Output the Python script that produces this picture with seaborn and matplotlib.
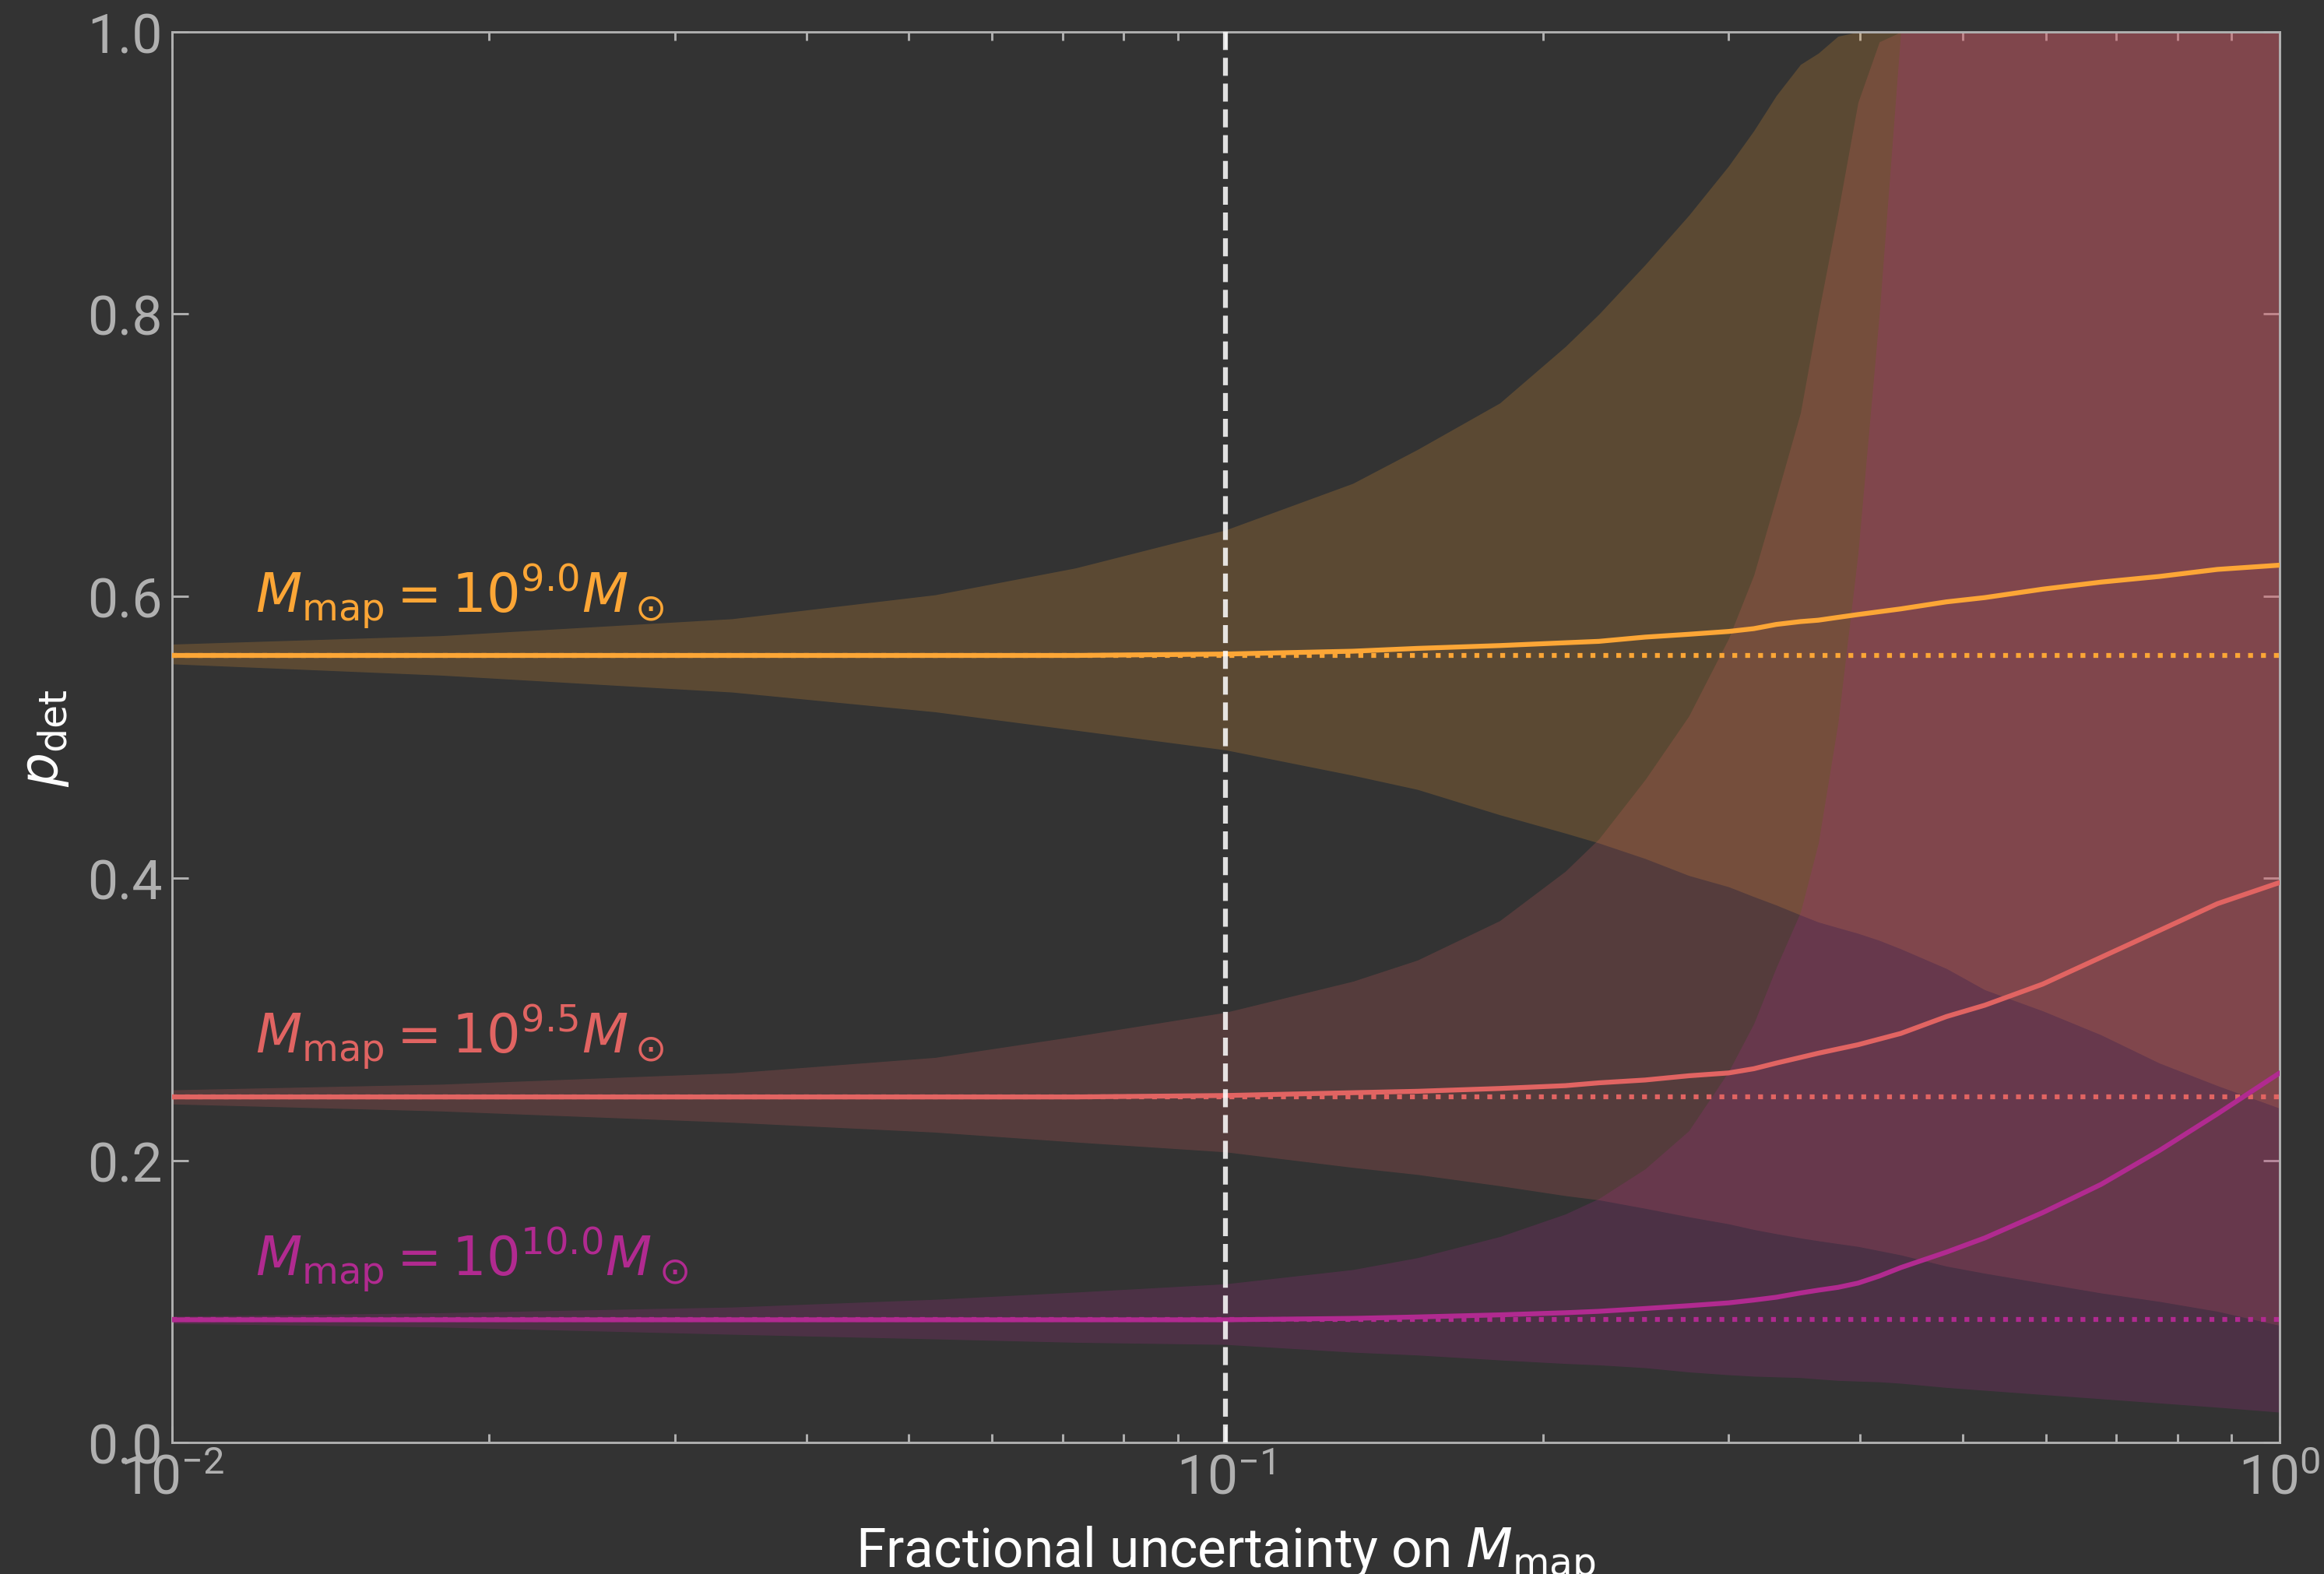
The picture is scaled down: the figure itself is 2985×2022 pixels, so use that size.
import matplotlib

matplotlib.use("Agg")
import matplotlib.pyplot as plt
import pandas as pd
import seaborn as sns

# fractional uncertainty on M_map (common grid)
frac_unc = [0.010, 0.018, 0.034, 0.053, 0.072, 0.100, 0.132, 0.152, 0.182, 0.210,
            0.226, 0.250, 0.275, 0.300, 0.317, 0.333, 0.351, 0.365, 0.381, 0.398,
            0.417, 0.437, 0.483, 0.525, 0.596, 0.677, 0.769, 0.873, 1.000]

# log M_map = 9.0
p90_med = [0.558, 0.558, 0.558, 0.558, 0.558, 0.559, 0.561, 0.563, 0.565, 0.567,
           0.568, 0.571, 0.573, 0.575, 0.577, 0.580, 0.582, 0.583, 0.585, 0.587,
           0.589, 0.591, 0.596, 0.599, 0.605, 0.610, 0.614, 0.619, 0.622]
p90_lo = [0.552, 0.544, 0.532, 0.518, 0.505, 0.491, 0.473, 0.463, 0.445, 0.432,
          0.425, 0.414, 0.402, 0.394, 0.387, 0.381, 0.374, 0.369, 0.365, 0.361,
          0.356, 0.350, 0.336, 0.321, 0.306, 0.289, 0.269, 0.253, 0.237]
p90_hi = [0.566, 0.572, 0.584, 0.601, 0.620, 0.647, 0.680, 0.704, 0.737, 0.777,
          0.800, 0.835, 0.870, 0.905, 0.930, 0.955, 0.977, 0.985, 0.997, 1.000,
          1.000, 1.000, 1.000, 1.000, 1.000, 1.000, 1.000, 1.000, 1.000]

# log M_map = 9.5
p95_med = [0.245, 0.245, 0.245, 0.245, 0.245, 0.246, 0.248, 0.249, 0.251, 0.253,
           0.255, 0.257, 0.260, 0.262, 0.265, 0.269, 0.273, 0.276, 0.279, 0.282,
           0.286, 0.290, 0.302, 0.310, 0.325, 0.344, 0.363, 0.382, 0.397]
p95_lo = [0.240, 0.235, 0.227, 0.220, 0.213, 0.206, 0.195, 0.190, 0.182, 0.175,
          0.172, 0.166, 0.160, 0.155, 0.151, 0.148, 0.145, 0.143, 0.141, 0.139,
          0.136, 0.133, 0.125, 0.120, 0.113, 0.106, 0.100, 0.093, 0.083]
p95_hi = [0.250, 0.254, 0.262, 0.273, 0.288, 0.305, 0.327, 0.342, 0.370, 0.405,
          0.428, 0.470, 0.515, 0.570, 0.615, 0.670, 0.730, 0.800, 0.872, 0.950,
          0.993, 1.000, 1.000, 1.000, 1.000, 1.000, 1.000, 1.000, 1.000]

# log M_map = 10.0
p100_med = [0.087, 0.087, 0.087, 0.087, 0.087, 0.087, 0.088, 0.089, 0.0905, 0.092,
            0.093, 0.095, 0.097, 0.099, 0.101, 0.103, 0.106, 0.108, 0.110, 0.113,
            0.118, 0.124, 0.135, 0.145, 0.163, 0.183, 0.207, 0.233, 0.262]
p100_lo = [0.0844, 0.0818, 0.0767, 0.0734, 0.071, 0.0695, 0.064, 0.062, 0.0585, 0.056,
           0.055, 0.053, 0.050, 0.048, 0.047, 0.0465, 0.046, 0.045, 0.044, 0.0435,
           0.043, 0.042, 0.039, 0.037, 0.034, 0.031, 0.028, 0.025, 0.0215]
p100_hi = [0.0895, 0.092, 0.096, 0.1015, 0.1066, 0.1125, 0.1226, 0.131, 0.146, 0.162,
           0.173, 0.194, 0.221, 0.263, 0.297, 0.337, 0.376, 0.425, 0.510, 0.630,
           0.800, 1.000, 1.000, 1.000, 1.000, 1.000, 1.000, 1.000, 1.000]

log_masses = ["9.0", "9.5", "10.0"]
p_true = [0.558, 0.245, 0.087]
label_y = [0.589, 0.277, 0.119]
colors = ["#fca636", "#e16462", "#b12a90"]

BG = "#333333"
GREY = "#b0b0b0"

sns.set_theme(style="ticks")
plt.rcParams.update({
    "font.family": ["Roboto", "DejaVu Sans"],
    "mathtext.fontset": "dejavusans",
    "figure.facecolor": BG,
    "axes.facecolor": BG,
    "axes.edgecolor": GREY,
    "axes.linewidth": 0.7,
    "xtick.color": GREY,
    "ytick.color": GREY,
    "axes.labelcolor": "white",
})

frames = []
for lm, med, lo, hi in zip(log_masses,
                           [p90_med, p95_med, p100_med],
                           [p90_lo, p95_lo, p100_lo],
                           [p90_hi, p95_hi, p100_hi]):
    frames.append(pd.DataFrame({"frac": frac_unc, "med": med, "lo": lo, "hi": hi, "logm": lm}))
data = pd.concat(frames, ignore_index=True)

fig = plt.figure(figsize=(9.95, 6.7433), dpi=300)
ax = fig.add_axes([0.0740, 0.0835, 0.9069, 0.8957])

for lm, col, pt, ly in zip(log_masses, colors, p_true, label_y):
    sub = data[data["logm"] == lm]
    ax.fill_between(sub["frac"], sub["lo"], sub["hi"], color=col, alpha=0.2, lw=0, zorder=1)
    ax.axhline(pt, color=col, ls=":", lw=1.5, zorder=3)
    ax.text(0.012, ly, rf"$M_{{\rm map}} = 10^{{{lm}}} M_\odot$", color=col,
            fontsize=16.5, va="baseline", ha="left", zorder=5)

sns.lineplot(data=data, x="frac", y="med", hue="logm", palette=colors,
             hue_order=log_masses, lw=1.5, legend=False, ax=ax, zorder=4)

ax.axvline(0.1, color="white", ls="--", lw=1.5, alpha=0.85, zorder=4)

ax.set_xscale("log")
ax.set_xlim(0.01, 1)
ax.set_ylim(0, 1)
ax.set_yticks([0.0, 0.2, 0.4, 0.6, 0.8, 1.0])
ax.tick_params(which="both", direction="in", top=True, right=True, width=0.7,
               labelsize=16.7, pad=3)
ax.tick_params(which="major", length=5)
ax.tick_params(which="minor", length=2.7)
for s in ax.spines.values():
    s.set_color(GREY)

ax.set_xlabel(r"Fractional uncertainty on $M_{\rm map}$", fontsize=16.7, labelpad=6)
ax.set_ylabel(r"$p_{\rm det}$", fontsize=16.7, labelpad=5)

fig.savefig("out.png", dpi=300, facecolor=BG)
